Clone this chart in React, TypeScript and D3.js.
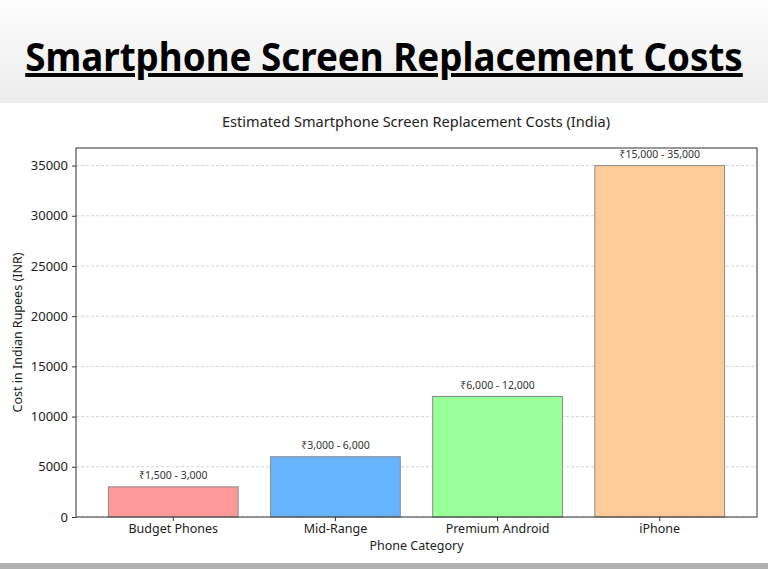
import { useEffect, useRef } from 'react'
import * as d3 from 'd3'

const categories = ['Budget Phones', 'Mid-Range', 'Premium Android', 'iPhone']
const maxCosts = [3000, 6000, 12000, 35000]
const rangeLabels = ['₹1,500 - 3,000', '₹3,000 - 6,000', '₹6,000 - 12,000', '₹15,000 - 35,000']
const barColors = ['#ff9999', '#66b3ff', '#99ff99', '#ffcc99']
const yTicks = [0, 5000, 10000, 15000, 20000, 25000, 30000, 35000]

const FONT = '"Noto Sans", "DejaVu Sans", sans-serif'

export default function App() {
  const svgRef = useRef<SVGSVGElement>(null)

  useEffect(() => {
    if (!svgRef.current) return
    const svg = d3.select(svgRef.current)
    svg.selectAll('*').remove()

    const W = 768
    const H = 569
    const plot = { left: 76, right: 757, top: 148, bottom: 517 }

    // header band gradient
    const defs = svg.append('defs')
    const grad = defs.append('linearGradient')
      .attr('id', 'hdr')
      .attr('x1', 0).attr('y1', 0).attr('x2', 0).attr('y2', 1)
    grad.append('stop').attr('offset', '0%').attr('stop-color', '#fdfdfd')
    grad.append('stop').attr('offset', '100%').attr('stop-color', '#ececec')

    svg.append('rect').attr('width', W).attr('height', H).attr('fill', '#ffffff')
    svg.append('rect').attr('width', W).attr('height', 103).attr('fill', 'url(#hdr)')
    svg.append('rect').attr('y', 563).attr('width', W).attr('height', 6).attr('fill', '#b0b0b0')

    // big title, squeezed horizontally to the reference width
    const titleG = svg.append('g')
    const title = titleG.append('text')
      .attr('x', 0)
      .attr('y', 0)
      .attr('text-anchor', 'middle')
      .style('font-family', FONT)
      .style('font-size', '39px')
      .style('font-weight', 'bold')
      .style('fill', '#000')
      .style('text-decoration', 'underline')
      .text('Smartphone Screen Replacement Costs')
    const natural = (title.node() as SVGTextElement).getComputedTextLength() || 718
    titleG.attr('transform', `translate(384,71) scale(${718 / natural},1)`)

    // chart title
    svg.append('text')
      .attr('x', 416)
      .attr('y', 127)
      .attr('text-anchor', 'middle')
      .attr('textLength', 388)
      .attr('lengthAdjust', 'spacingAndGlyphs')
      .style('font-family', FONT)
      .style('font-size', '14.5px')
      .style('fill', '#222')
      .text('Estimated Smartphone Screen Replacement Costs (India)')

    const x = d3.scaleBand<string>()
      .domain(categories)
      .range([plot.left, plot.right])
      .paddingInner(0.2)
      .paddingOuter(0.2)

    const y = d3.scaleLinear()
      .domain([0, 36750])
      .range([plot.bottom, plot.top])

    const g = svg.append('g')

    // grid lines
    g.selectAll('.grid-line')
      .data(yTicks)
      .enter().append('line')
      .attr('x1', plot.left)
      .attr('x2', plot.right)
      .attr('y1', d => y(d))
      .attr('y2', d => y(d))
      .attr('stroke', '#c8c8c8')
      .attr('stroke-width', 0.8)
      .attr('stroke-dasharray', '3,2')

    // bars
    g.selectAll('.bar')
      .data(categories)
      .enter().append('rect')
      .attr('x', d => x(d)!)
      .attr('width', x.bandwidth())
      .attr('y', (d, i) => y(maxCosts[i]))
      .attr('height', (d, i) => y(0) - y(maxCosts[i]))
      .attr('fill', (d, i) => barColors[i])
      .attr('stroke', '#8a8a8a')
      .attr('stroke-width', 1)

    // value labels
    g.selectAll('.value-label')
      .data(categories)
      .enter().append('text')
      .attr('x', d => x(d)! + x.bandwidth() / 2)
      .attr('y', (d, i) => y(maxCosts[i]) - 8)
      .attr('text-anchor', 'middle')
      .style('font-family', FONT)
      .style('font-size', '10.5px')
      .style('fill', '#333')
      .text((d, i) => rangeLabels[i])

    // frame
    g.append('rect')
      .attr('x', plot.left)
      .attr('y', plot.top)
      .attr('width', plot.right - plot.left)
      .attr('height', plot.bottom - plot.top)
      .attr('fill', 'none')
      .attr('stroke', '#333')
      .attr('stroke-width', 1)

    // axes
    const yAxis = g.append('g')
      .attr('transform', `translate(${plot.left},0)`)
      .call(d3.axisLeft(y).tickValues(yTicks).tickSize(4).tickPadding(4).tickFormat(d3.format('d')))
    yAxis.select('.domain').remove()
    yAxis.selectAll('line').attr('stroke', '#333')
    yAxis.selectAll('text')
      .style('font-family', FONT)
      .style('font-size', '13px')
      .style('fill', '#222')

    const xAxis = g.append('g')
      .attr('transform', `translate(0,${plot.bottom})`)
      .call(d3.axisBottom(x).tickSize(4).tickPadding(3))
    xAxis.select('.domain').remove()
    xAxis.selectAll('line').attr('stroke', '#333')
    xAxis.selectAll('text')
      .style('font-family', FONT)
      .style('font-size', '12.5px')
      .style('fill', '#222')

    // axis labels
    svg.append('text')
      .attr('transform', `translate(22,${(plot.top + plot.bottom) / 2}) rotate(-90)`)
      .attr('text-anchor', 'middle')
      .style('font-family', FONT)
      .style('font-size', '12.5px')
      .style('fill', '#222')
      .text('Cost in Indian Rupees (INR)')

    svg.append('text')
      .attr('x', (plot.left + plot.right) / 2)
      .attr('y', 550)
      .attr('text-anchor', 'middle')
      .style('font-family', FONT)
      .style('font-size', '12.5px')
      .style('fill', '#222')
      .text('Phone Category')
  }, [])

  return (
    <svg
      ref={svgRef}
      width={768}
      height={569}
      style={{ position: 'absolute', left: 0, top: 0, display: 'block' }}
    />
  )
}
